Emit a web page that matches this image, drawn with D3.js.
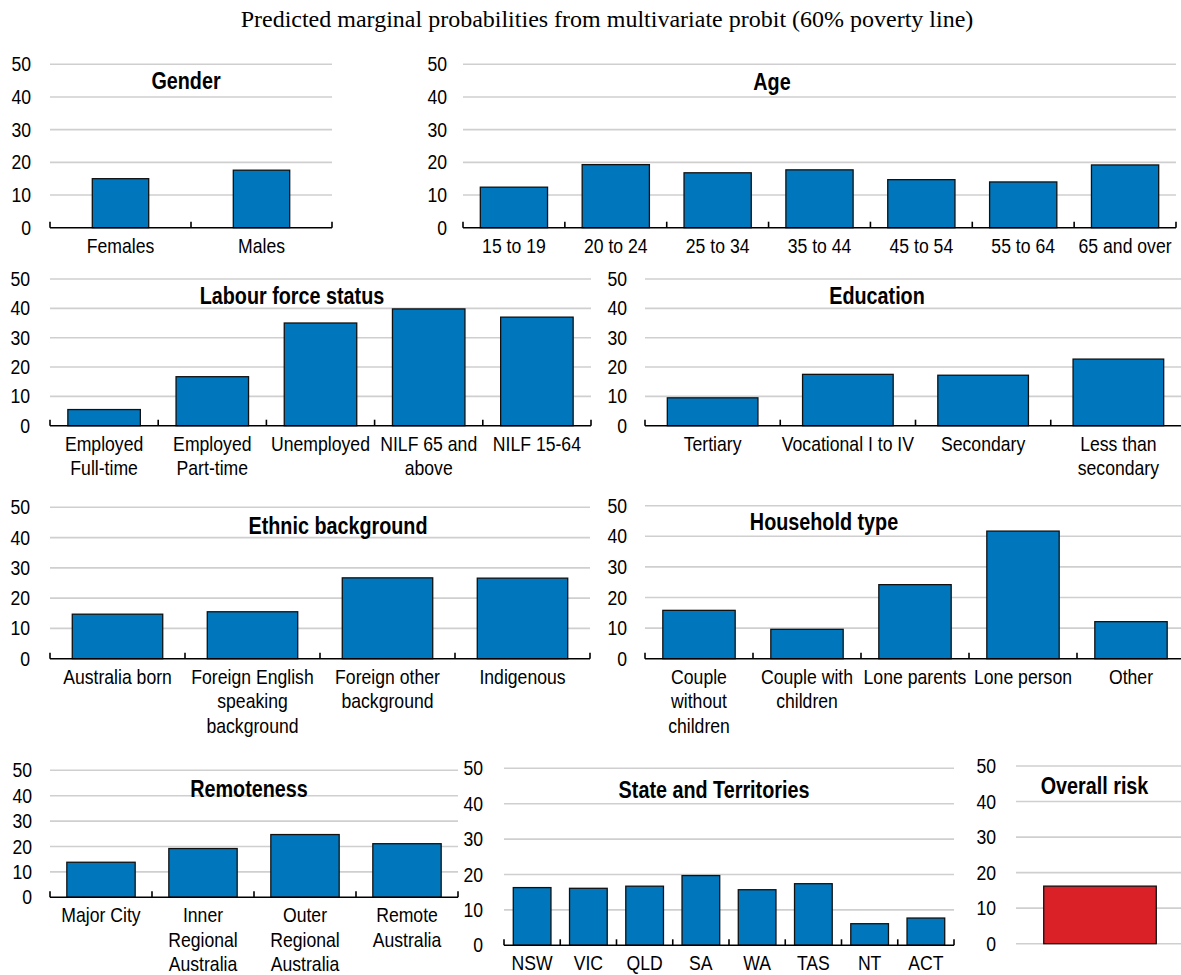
<!DOCTYPE html>
<html>
<head>
<meta charset="utf-8">
<script src="https://cdn.jsdelivr.net/npm/d3@7"></script>
<style>
  html, body { margin: 0; padding: 0; background: #fff; }
  svg { display: block; }
  .sans { font-family: "Liberation Sans", Arial, sans-serif; }
</style>
</head>
<body>
<svg id="chart" width="1181" height="975"></svg>
<script>
// ---- Data (predicted marginal probabilities, %) ----
const genderCats = ["Females", "Males"];
const genderVals = [15.0, 17.6];

const ageCats = ["15 to 19", "20 to 24", "25 to 34", "35 to 44", "45 to 54", "55 to 64", "65 and over"];
const ageVals = [12.4, 19.3, 16.8, 17.7, 14.7, 14.0, 19.2];

const labourCats = ["Employed\nFull-time", "Employed\nPart-time", "Unemployed", "NILF 65 and\nabove", "NILF 15-64"];
const labourVals = [5.5, 16.7, 35.0, 39.8, 37.0];

const educationCats = ["Tertiary", "Vocational I to IV", "Secondary", "Less than\nsecondary"];
const educationVals = [9.5, 17.5, 17.2, 22.7];

const ethnicCats = ["Australia born", "Foreign English\nspeaking\nbackground", "Foreign other\nbackground", "Indigenous"];
const ethnicVals = [14.7, 15.5, 26.7, 26.6];

const householdCats = ["Couple\nwithout\nchildren", "Couple with\nchildren", "Lone parents", "Lone person", "Other"];
const householdVals = [15.8, 9.6, 24.2, 41.7, 12.1];

const remotenessCats = ["Major City", "Inner\nRegional\nAustralia", "Outer\nRegional\nAustralia", "Remote\nAustralia"];
const remotenessVals = [13.8, 19.2, 24.7, 21.1];

const stateCats = ["NSW", "VIC", "QLD", "SA", "WA", "TAS", "NT", "ACT"];
const stateVals = [16.3, 16.1, 16.7, 19.7, 15.7, 17.4, 6.1, 7.7];

const overallCats = ["Overall"];
const overallVals = [16.2];

const yTicks = [0, 10, 20, 30, 40, 50];
const chartTitle = "Predicted marginal probabilities from multivariate probit (60% poverty line)";

// ---- Panel layout ----
const panels = [
  { title: "Gender", cats: genderCats, vals: genderVals, x0: 50, x1: 332, yTop: 64.3, yBot: 227.7, tickRight: 31, titleX: 186, titleY: 89, pad: 0.6 },
  { title: "Age", cats: ageCats, vals: ageVals, x0: 463, x1: 1176, yTop: 64.3, yBot: 227.7, tickRight: 447, titleX: 772, titleY: 90, pad: 0.34 },
  { title: "Labour force status", cats: labourCats, vals: labourVals, x0: 50, x1: 591, yTop: 279, yBot: 425.7, tickRight: 30, titleX: 292, titleY: 304, pad: 0.33 },
  { title: "Education", cats: educationCats, vals: educationVals, x0: 645, x1: 1186, yTop: 279, yBot: 425.7, tickRight: 627, titleX: 877, titleY: 304, pad: 0.33 },
  { title: "Ethnic background", cats: ethnicCats, vals: ethnicVals, x0: 50, x1: 590, yTop: 507.3, yBot: 658.7, tickRight: 30, titleX: 338, titleY: 534, pad: 0.33 },
  { title: "Household type", cats: householdCats, vals: householdVals, x0: 645, x1: 1185, yTop: 505.7, yBot: 658.7, tickRight: 627, titleX: 824, titleY: 530, pad: 0.33 },
  { title: "Remoteness", cats: remotenessCats, vals: remotenessVals, x0: 50, x1: 458, yTop: 770.3, yBot: 897.3, tickRight: 32, titleX: 249, titleY: 797, pad: 0.33 },
  { title: "State and Territories", cats: stateCats, vals: stateVals, x0: 504, x1: 954, yTop: 768.3, yBot: 945.3, tickRight: 483, titleX: 714, titleY: 798, pad: 0.33 },
  { title: "Overall risk", cats: overallCats, vals: overallVals, x0: 1016, x1: 1184, yTop: 766, yBot: 943.7, tickRight: 996, titleX: 1094.5, titleY: 794, pad: 0.33, fill: "#da2128", noAxis: true }
];

const BLUE = "#0077bd";
const GRID = "#cfcfcf";
const FONT_SIZE = 20.5;
const TITLE_SIZE = 23;
const LINE_H = 24.5;
const NARROW = 0.86;   // horizontal squeeze giving a narrow sans face

const svg = d3.select("#chart");

// Text drawn with a condensed look: a group scaled horizontally around its anchor.
function narrowText(parent, x, y, lines, opts) {
  const g = parent.append("g")
    .attr("transform", `translate(${x},${y}) scale(${NARROW},1)`);
  const t = g.append("text")
    .attr("text-anchor", opts.anchor || "middle")
    .style("font-size", opts.size + "px")
    .style("font-weight", opts.weight || "normal")
    .attr("fill", "#000");
  lines.forEach((line, i) => {
    t.append("tspan").attr("x", 0).attr("y", i * (opts.lineH || 0)).text(line);
  });
  return t;
}

svg.append("text")
  .attr("x", 607).attr("y", 27)
  .attr("text-anchor", "middle")
  .style("font-family", "'Liberation Serif', 'Times New Roman', serif")
  .style("font-size", "24px")
  .attr("fill", "#000")
  .text(chartTitle);

panels.forEach(p => {
  const g = svg.append("g").attr("class", "sans");

  const y = d3.scaleLinear().domain([0, 50]).range([p.yBot, p.yTop]);
  const x = d3.scaleBand().domain(p.cats).range([p.x0, p.x1])
    .paddingInner(p.pad).paddingOuter(p.pad / 2);

  // gridlines
  g.selectAll("line.grid")
    .data(p.noAxis ? yTicks : yTicks.filter(t => t > 0))
    .join("line")
    .attr("class", "grid")
    .attr("x1", p.x0).attr("x2", p.x1)
    .attr("y1", d => y(d)).attr("y2", d => y(d))
    .attr("stroke", GRID).attr("stroke-width", 1.6);

  // y tick labels
  yTicks.forEach(t => {
    narrowText(g, p.tickRight, y(t) + 7, [String(t)], { size: FONT_SIZE, anchor: "end" });
  });

  // bars
  g.selectAll("rect.bar")
    .data(p.cats.map((c, i) => ({ c, v: p.vals[i] })))
    .join("rect")
    .attr("class", "bar")
    .attr("x", d => x(d.c))
    .attr("width", x.bandwidth())
    .attr("y", d => y(d.v))
    .attr("height", d => y(0) - y(d.v))
    .attr("fill", p.fill || BLUE)
    .attr("stroke", "#111")
    .attr("stroke-width", 1.3);

  if (!p.noAxis) {
    // category axis: baseline with inward ticks at band boundaries
    const step = x.step();
    const bounds = d3.range(p.cats.length + 1).map(i => p.x0 + i * step);
    g.append("line")
      .attr("x1", p.x0).attr("x2", p.x1)
      .attr("y1", y(0)).attr("y2", y(0))
      .attr("stroke", "#000").attr("stroke-width", 1.6);
    g.selectAll("line.tick")
      .data(bounds)
      .join("line")
      .attr("class", "tick")
      .attr("x1", d => d).attr("x2", d => d)
      .attr("y1", y(0)).attr("y2", y(0) - 6)
      .attr("stroke", "#000").attr("stroke-width", 1.6);

    // category labels (multi-line)
    p.cats.forEach(c => {
      narrowText(g, x(c) + x.bandwidth() / 2, y(0) + 25, c.split("\n"),
        { size: FONT_SIZE, lineH: LINE_H });
    });
  }

  // panel title
  narrowText(g, p.titleX, p.titleY, [p.title], { size: TITLE_SIZE, weight: "bold" });
});
</script>
</body>
</html>
